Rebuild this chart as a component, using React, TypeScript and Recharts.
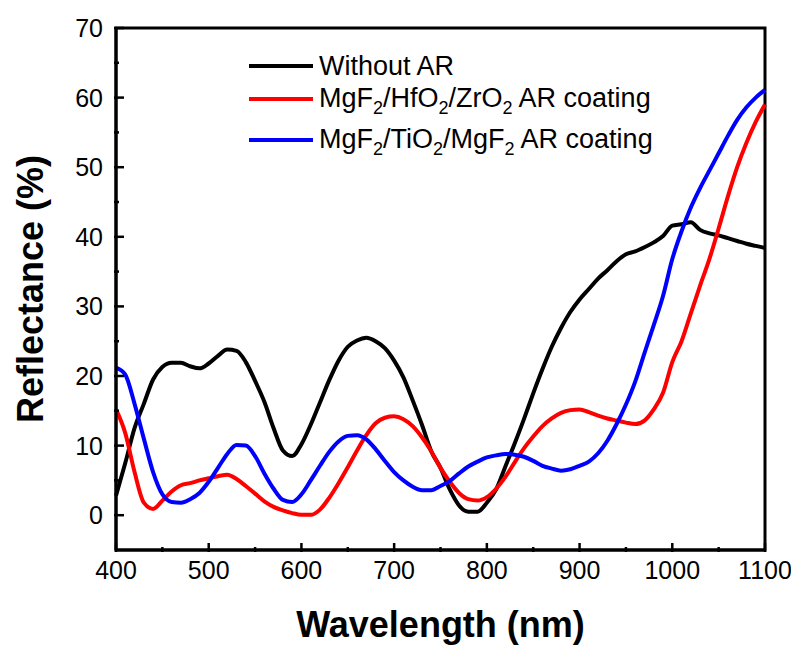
import { LineChart, Line, XAxis, YAxis, ReferenceArea, Legend } from 'recharts';

const FONT = '"Liberation Sans", Arial, Helvetica, sans-serif';

// wavelength grid, 10 nm steps
const wavelengths = [
    400, 410, 420, 430, 440, 450, 460, 470, 480, 490,
    500, 510, 520, 530, 540, 550, 560, 570, 580, 590,
    600, 610, 620, 630, 640, 650, 660, 670, 680, 690,
    700, 710, 720, 730, 740, 750, 760, 770, 780, 790,
    800, 810, 820, 830, 840, 850, 860, 870, 880, 890,
    900, 910, 920, 930, 940, 950, 960, 970, 980, 990,
    1000, 1010, 1020, 1030, 1040, 1050, 1060, 1070, 1080, 1090,
    1100,
];

const withoutAR = [
    2.8, 7.5, 12.5, 16.0, 19.5, 21.3, 21.9, 21.9, 21.4, 21.1,
    21.8, 22.9, 23.8, 23.6, 22.0, 19.3, 16.3, 12.5, 9.3, 8.5,
    10.2, 13.0, 16.2, 19.4, 22.2, 24.2, 25.1, 25.5, 25.0, 24.0,
    22.2, 19.8, 16.5, 13.0, 9.2, 6.8, 3.7, 1.4, 0.5, 0.5,
    1.8, 3.7, 7.0, 10.3, 13.8, 17.5, 21.0, 24.2, 26.9, 29.2,
    31.0, 32.5, 34.0, 35.2, 36.5, 37.5, 37.9, 38.5, 39.2, 40.1,
    41.6, 41.8, 42.1, 41.0, 40.5, 40.2, 39.8, 39.4, 39.0, 38.7,
    38.4,
];

const hfZrCoating = [
    15.2, 11.8, 6.2, 1.8, 0.9, 2.1, 3.4, 4.3, 4.6, 5.0,
    5.3, 5.6, 5.8, 5.2, 4.2, 3.1, 2.0, 1.2, 0.7, 0.3,
    0.05, 0.05, 0.8, 2.5, 4.6, 6.9, 9.3, 11.5, 13.2, 14.0,
    14.2, 13.8, 12.8, 11.2, 9.2, 6.8, 4.8, 3.2, 2.3, 2.1,
    2.6, 3.8, 5.5, 7.6, 9.6, 11.3, 12.8, 13.9, 14.7, 15.1,
    15.2, 14.8, 14.3, 13.9, 13.6, 13.3, 13.1, 13.6, 15.2, 17.6,
    22.0, 25.0, 29.0, 33.0, 36.8, 41.2, 45.8, 50.0, 53.5, 56.5,
    59.0,
];

const tiCoating = [
    21.2, 20.2, 16.0, 11.0, 6.2, 3.0, 1.9, 1.8, 2.3, 3.2,
    4.8, 6.8, 8.8, 10.1, 10.0, 8.5, 6.0, 3.8, 2.2, 1.9,
    3.0, 5.0, 7.1, 9.1, 10.6, 11.4, 11.5, 10.9, 9.5, 7.8,
    6.2, 5.0, 4.1, 3.6, 3.6, 4.2, 4.9, 6.0, 7.0, 7.7,
    8.3, 8.6, 8.8, 8.7, 8.4, 7.8, 7.1, 6.7, 6.4, 6.6,
    7.1, 7.7, 8.9, 10.7, 13.1, 15.9, 19.2, 23.3, 27.3, 31.5,
    36.8, 40.8, 44.2, 47.0, 49.5, 52.0, 54.5, 56.8, 58.6, 60.0,
    61.1,
];

const xTicks = [400, 450, 500, 550, 600, 650, 700, 750, 800, 850, 900, 950, 1000, 1050, 1100];
const yTicks = [0, 5, 10, 15, 20, 25, 30, 35, 40, 45, 50, 55, 60, 65, 70];

const data = wavelengths.map((w, i) => ({
    w,
    bare: withoutAR[i],
    hfzr: hfZrCoating[i],
    ti: tiCoating[i],
}));

// label parts: [text, isSubscript]
const legendItems: { color: string; parts: [string, boolean][] }[] = [
    { color: '#000000', parts: [['Without AR', false]] },
    {
        color: '#ff0000',
        parts: [['MgF', false], ['2', true], ['/HfO', false], ['2', true], ['/ZrO', false], ['2', true], [' AR coating', false]],
    },
    {
        color: '#0000ff',
        parts: [['MgF', false], ['2', true], ['/TiO', false], ['2', true], ['/MgF', false], ['2', true], [' AR coating', false]],
    },
];
const legendRowTops = [51, 84, 125];

const XTick = (props: any) => {
    const { x, y, payload } = props;
    const major = payload.value % 100 === 0;
    return (
        <g>
            <line x1={x} x2={x} y1={y} y2={y - (major ? 9 : 5)} stroke="#000" strokeWidth={2.5} />
            {major && (
                <text x={x} y={y + 27} textAnchor="middle" fontSize={25} fontFamily={FONT} fill="#000">
                    {payload.value}
                </text>
            )}
        </g>
    );
};

const YTick = (props: any) => {
    const { x, y, payload } = props;
    const major = payload.value % 10 === 0;
    return (
        <g>
            <line x1={x} x2={x + (major ? 10 : 5)} y1={y} y2={y} stroke="#000" strokeWidth={2.5} />
            {major && (
                <text x={x - 11} y={y + 9} textAnchor="end" fontSize={25} fontFamily={FONT} fill="#000">
                    {payload.value}
                </text>
            )}
        </g>
    );
};

const XTitle = (props: any) => {
    const { viewBox } = props;
    return (
        <text x={viewBox.x + viewBox.width / 2} y={637} textAnchor="middle" fontSize={36}
            fontWeight="bold" fontFamily={FONT} fill="#000">
            Wavelength (nm)
        </text>
    );
};

const YTitle = (props: any) => {
    const { viewBox } = props;
    const cy = viewBox.y + viewBox.height / 2;
    return (
        <text x={43} y={cy} transform={`rotate(-90, 43, ${cy})`} textAnchor="middle" fontSize={36}
            fontWeight="bold" fontFamily={FONT} fill="#000">
            Reflectance (%)
        </text>
    );
};

const LegendBox = () => (
    <div style={{ position: 'relative', width: 440, height: 110, fontFamily: FONT, fontSize: 27, color: '#000' }}>
        {legendItems.map((item, i) => (
            <div key={i} style={{
                position: 'absolute', left: 0, top: legendRowTops[i] - 51, height: 30,
                lineHeight: '30px', whiteSpace: 'nowrap', display: 'flex', alignItems: 'center',
            }}>
                <svg width={64} height={30} style={{ marginRight: 6 }}>
                    <line x1={0} x2={64} y1={15} y2={15} stroke={item.color} strokeWidth={4} />
                </svg>
                <span>
                    {item.parts.map(([t, sub], j) => sub ? (
                        <span key={j} style={{ fontSize: 18, position: 'relative', top: 7 }}>{t}</span>
                    ) : (
                        <span key={j}>{t}</span>
                    ))}
                </span>
            </div>
        ))}
    </div>
);

export default function App() {
    return (
        <div style={{ position: 'absolute', left: 0, top: 0, background: '#fff' }}>
            <LineChart width={791} height={647} data={data} margin={{ top: 28, right: 26, left: 0, bottom: 0 }}>
                <ReferenceArea x1={400} x2={1100} y1={-5} y2={70} fill="none" stroke="#000" strokeWidth={3} />
                <XAxis
                    dataKey="w"
                    type="number"
                    domain={[400, 1100]}
                    ticks={xTicks}
                    interval={0}
                    height={97}
                    tickSize={0}
                    tickLine={false}
                    axisLine={{ stroke: '#000', strokeWidth: 3 }}
                    tick={<XTick />}
                    label={<XTitle />}
                />
                <YAxis
                    type="number"
                    domain={[-5, 70]}
                    allowDataOverflow
                    ticks={yTicks}
                    interval={0}
                    width={116}
                    tickSize={0}
                    tickLine={false}
                    axisLine={{ stroke: '#000', strokeWidth: 3 }}
                    tick={<YTick />}
                    label={<YTitle />}
                />
                <Legend
                    layout="vertical"
                    align="center"
                    verticalAlign="middle"
                    wrapperStyle={{ left: 249, top: 51, width: 440, height: 110 }}
                    content={<LegendBox />}
                />
                <Line type="monotone" dataKey="bare" stroke="#000000" strokeWidth={4} dot={false} isAnimationActive={false} />
                <Line type="monotone" dataKey="hfzr" stroke="#ff0000" strokeWidth={4} dot={false} isAnimationActive={false} />
                <Line type="monotone" dataKey="ti" stroke="#0000ff" strokeWidth={4} dot={false} isAnimationActive={false} />
            </LineChart>
        </div>
    );
}
